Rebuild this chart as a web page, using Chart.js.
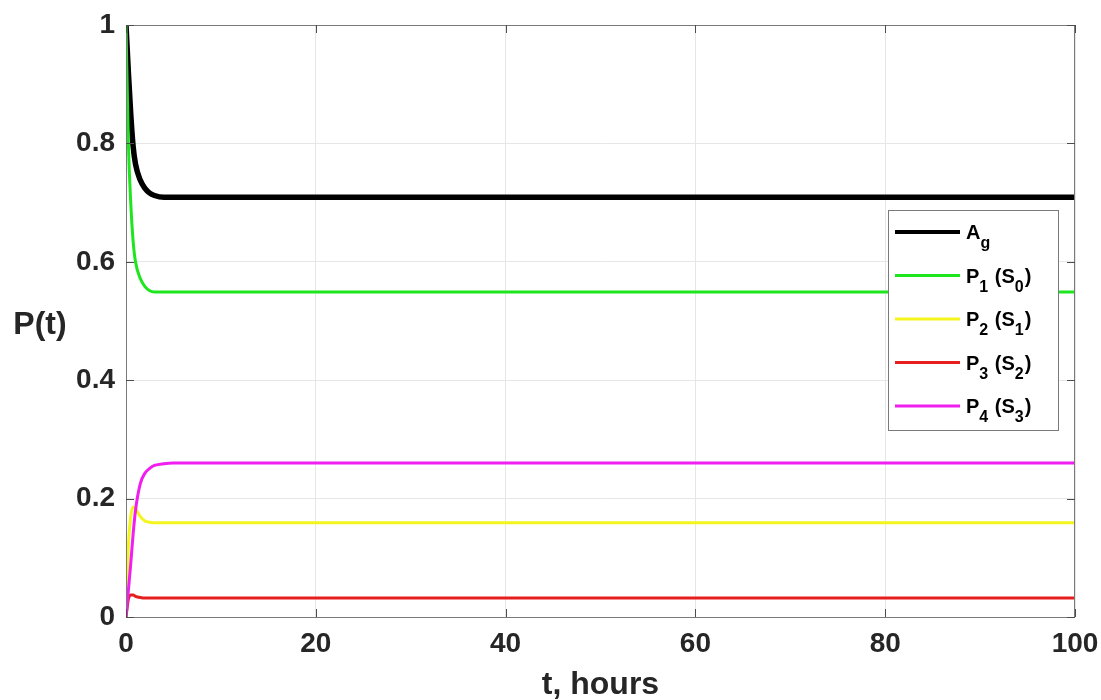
<!DOCTYPE html>
<html>
<head>
<meta charset="utf-8">
<script src="https://cdn.jsdelivr.net/npm/chart.js@4.4.0/dist/chart.umd.min.js"></script>
<style>
  html, body { margin: 0; padding: 0; background: #ffffff; }
  #wrap { width: 1101px; height: 700px; }
</style>
</head>
<body>
<div id="wrap"><canvas id="c" width="1101" height="700"></canvas></div>
<script>
// ---- data ----
const tHours = [0, 0.25, 0.5, 0.75, 1, 1.5, 2, 2.5, 3, 4, 5, 6, 100];
const ag = [1, 0.92, 0.85, 0.795, 0.765, 0.738, 0.724, 0.716, 0.712, 0.709, 0.709, 0.709, 0.709];
const p1 = [1, 0.80, 0.70, 0.635, 0.60, 0.572, 0.558, 0.551, 0.549, 0.549, 0.549, 0.549, 0.549];
const p2 = [0, 0.12, 0.17, 0.186, 0.183, 0.17, 0.162, 0.160, 0.159, 0.159, 0.159, 0.159, 0.159];
const p3 = [0, 0.030, 0.037, 0.037, 0.035, 0.033, 0.032, 0.032, 0.032, 0.032, 0.032, 0.032, 0.032];
const p4 = [0, 0.045, 0.09, 0.14, 0.18, 0.225, 0.243, 0.251, 0.256, 0.259, 0.26, 0.26, 0.26];

const seriesLabels = ["A_g", "P_1 (S_0)", "P_2 (S_1)", "P_3 (S_2)", "P_4 (S_3)"];
const seriesColors = ["#000000", "#1ee61e", "#f5f51e", "#e61e1e", "#f01ef0"];
const seriesWidths = [5.5, 3, 3, 3, 3];
const xTicks = [0, 20, 40, 60, 80, 100];
const yTicks = [0, 0.2, 0.4, 0.6, 0.8, 1];
const xTitle = "t, hours";
const yTitle = "P(t)";

const FONT = "'Liberation Sans', Arial, Helvetica, sans-serif";
const TEXT = "#262626";

function pts(vals) { return tHours.map((t, i) => ({ x: t, y: vals[i] })); }
const allSeries = [ag, p1, p2, p3, p4];

const datasets = allSeries.map((vals, i) => ({
  label: seriesLabels[i],
  data: pts(vals),
  borderColor: seriesColors[i],
  backgroundColor: seriesColors[i],
  borderWidth: seriesWidths[i],
  pointRadius: 0,
  fill: false,
  cubicInterpolationMode: 'monotone',
  order: 5 - i
}));

// draw text with "_x" subscripts
function drawSubText(ctx, str, x, y, size) {
  let cx = x;
  let i = 0;
  while (i < str.length) {
    if (str[i] === '_' && i + 1 < str.length) {
      ctx.font = "bold " + Math.round(size * 0.8) + "px " + FONT;
      ctx.fillText(str[i + 1], cx, y + size * 0.45);
      cx += ctx.measureText(str[i + 1]).width + 1;
      i += 2;
    } else {
      ctx.font = "bold " + size + "px " + FONT;
      ctx.fillText(str[i], cx, y);
      cx += ctx.measureText(str[i]).width;
      i += 1;
    }
  }
}

const decor = {
  id: 'decor',
  afterDraw(chart) {
    const ctx = chart.ctx;
    const a = chart.chartArea;
    const xs = chart.scales.x, ys = chart.scales.y;
    ctx.save();
    // box
    ctx.strokeStyle = "#7a7a7a";
    ctx.lineWidth = 1;
    ctx.strokeRect(a.left + 0.5, a.top + 0.5, a.right - a.left - 1, a.bottom - a.top);
    // inward ticks
    ctx.strokeStyle = "#4d4d4d";
    xTicks.forEach(v => {
      const px = Math.round(xs.getPixelForValue(v)) + 0.5;
      ctx.beginPath(); ctx.moveTo(px, a.bottom); ctx.lineTo(px, a.bottom - 8); ctx.stroke();
      ctx.beginPath(); ctx.moveTo(px, a.top); ctx.lineTo(px, a.top + 8); ctx.stroke();
    });
    yTicks.forEach(v => {
      const py = Math.round(ys.getPixelForValue(v)) + 0.5;
      ctx.beginPath(); ctx.moveTo(a.left, py); ctx.lineTo(a.left + 8, py); ctx.stroke();
      ctx.beginPath(); ctx.moveTo(a.right, py); ctx.lineTo(a.right - 8, py); ctx.stroke();
    });
    // axis titles
    ctx.fillStyle = TEXT;
    ctx.font = "bold 32px " + FONT;
    ctx.textAlign = "center";
    ctx.textBaseline = "alphabetic";
    ctx.fillText(xTitle, (a.left + a.right) / 2, 694);
    ctx.fillText(yTitle, 40, 334);
    // legend
    const lx = 888, ly = 210, lw = 170, lh = 220;
    ctx.fillStyle = "#ffffff";
    ctx.fillRect(lx, ly, lw, lh);
    ctx.strokeStyle = "#7a7a7a";
    ctx.lineWidth = 1;
    ctx.strokeRect(lx + 0.5, ly + 0.5, lw, lh);
    ctx.textAlign = "left";
    ctx.textBaseline = "alphabetic";
    chart.data.datasets.forEach((ds, i) => {
      const yy = 232 + i * 43.5;
      ctx.strokeStyle = ds.borderColor;
      ctx.lineWidth = i === 0 ? 4 : 3;
      ctx.beginPath(); ctx.moveTo(895, yy); ctx.lineTo(960, yy); ctx.stroke();
      ctx.fillStyle = "#000000";
      drawSubText(ctx, ds.label, 966, yy + 7, 20);
    });
    ctx.restore();
  }
};

new Chart(document.getElementById('c'), {
  type: 'line',
  data: { datasets },
  plugins: [decor],
  options: {
    responsive: false,
    animation: false,
    layout: { padding: { top: 25, right: 26, left: 0, bottom: 0 } },
    plugins: { legend: { display: false }, tooltip: { enabled: false } },
    scales: {
      x: {
        type: 'linear',
        min: 0, max: 100,
        afterFit(s) { s.height = 83; s.paddingLeft = 0; s.paddingRight = 0; },
        afterBuildTicks(s) { s.ticks = xTicks.map(v => ({ value: v })); },
        grid: { color: "#e6e6e6", lineWidth: 1, drawTicks: false },
        border: { display: false },
        ticks: {
          color: TEXT, padding: 10,
          font: { family: FONT, size: 28, weight: 'bold' },
          maxRotation: 0,
          callback: v => String(v)
        }
      },
      y: {
        type: 'linear',
        min: 0, max: 1,
        afterFit(s) { s.width = 126; s.paddingTop = 0; s.paddingBottom = 0; },
        afterBuildTicks(s) { s.ticks = yTicks.map(v => ({ value: v })); },
        grid: { color: "#e6e6e6", lineWidth: 1, drawTicks: false },
        border: { display: false },
        ticks: {
          color: TEXT, padding: 11,
          font: { family: FONT, size: 28, weight: 'bold' },
          callback: v => String(v)
        }
      }
    }
  }
});
</script>
</body>
</html>
